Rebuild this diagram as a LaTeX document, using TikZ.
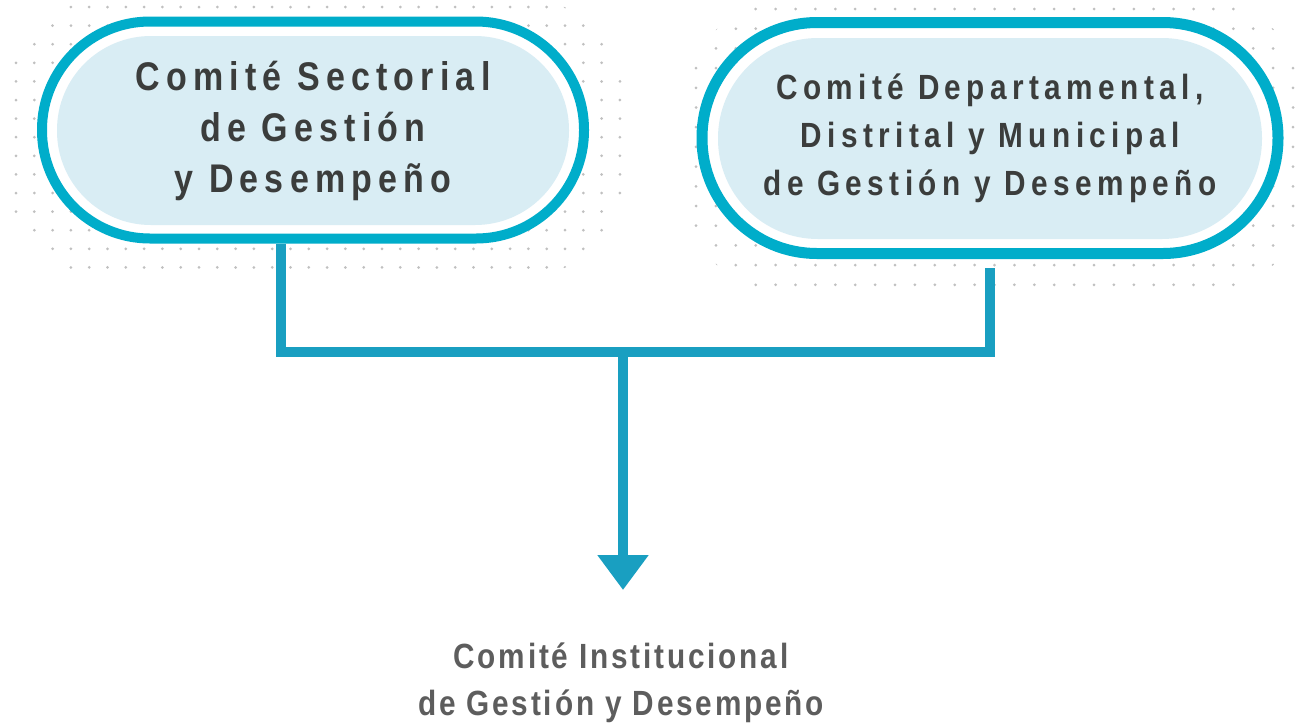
\documentclass[tikz,border=0pt]{standalone}
\usepackage{fontspec}
\usepackage{tikz}
\usetikzlibrary{arrows.meta}
\newfontfamily\pillfont[FakeStretch=0.85,LetterSpace=15.5]{Liberation Sans Bold}
\newfontfamily\basefont[FakeStretch=0.85,LetterSpace=8]{Liberation Sans Bold}
\definecolor{ringblue}{HTML}{00ADCA}
\definecolor{linkblue}{HTML}{199FC1}
\definecolor{coreblue}{HTML}{D9EDF4}
\definecolor{dotgray}{HTML}{C0C0C0}
\definecolor{textdark}{HTML}{3B3D3C}
\definecolor{textgray}{HTML}{5D5D5D}
\tikzstyle{pillframe} = [rectangle, draw=ringblue, fill=white, inner sep=0pt]
\tikzstyle{pillcore} = [rectangle, fill=coreblue, inner sep=0pt, text=textdark, align=center]
\tikzstyle{link} = [draw=linkblue, line width=10pt]
\tikzstyle{dot} = [fill=dotgray]

\begin{document}
\begin{tikzpicture}[x=1pt,y=-1pt]
	\useasboundingbox (0,0) rectangle (1303,724);
	\fill[white] (0,0) rectangle (1303,724);
	
	% dotted backdrops
	\begin{scope}
		\clip[rounded corners=90pt] (10,1) rectangle (622,274);
		\foreach \i in {0,...,33}
			\foreach \j in {0,...,14}
				\fill[dot] (16+18.3*\i,7+18.6*\j) circle (1.5pt);
	\end{scope}
	\begin{scope}
		\clip[rounded corners=90pt] (690,3) rectangle (1300,291);
		\foreach \i in {0,...,30}
			\foreach \j in {0,...,14}
				\fill[dot] (696+19.9*\i,9+19.7*\j) circle (1.5pt);
	\end{scope}
	
	\node[pillframe, line width=10pt, minimum width=542pt, minimum height=217pt, rounded corners=108pt](sectorial) at (313,130){};
	\node[pillcore, minimum width=512pt, minimum height=189pt, rounded corners=94pt, font=\pillfont\fontsize{40}{51}\selectfont](sectorial_core) at (313,130.5){Comité Sectorial\\de Gestión\\y Desempeño};
	
	\node[pillframe, line width=11pt, minimum width=576pt, minimum height=231pt, rounded corners=115pt](departamental) at (990,138){};
	\node[pillcore, minimum width=544pt, minimum height=201pt, rounded corners=100pt, font=\pillfont\fontsize{35}{48}\selectfont](departamental_core) at (990,138.5){Comité Departamental,\\Distrital y Municipal\\de Gestión y Desempeño};
	
	\node[text=textgray, align=center, font=\basefont\fontsize{35}{47}\selectfont](institucional) at (621,683){Comité Institucional\\de Gestión y Desempeño};
	
	\coordinate (hub) at (623,352);
	\coordinate (tip) at (623,590);
	
	\draw[link] ([xshift=-32pt]sectorial.south) |- (hub) -| ([yshift=-9pt]departamental.south);
	\draw[link,-{Triangle[width=49pt,length=35pt]}] (hub) -- (tip);
\end{tikzpicture}
\end{document}
